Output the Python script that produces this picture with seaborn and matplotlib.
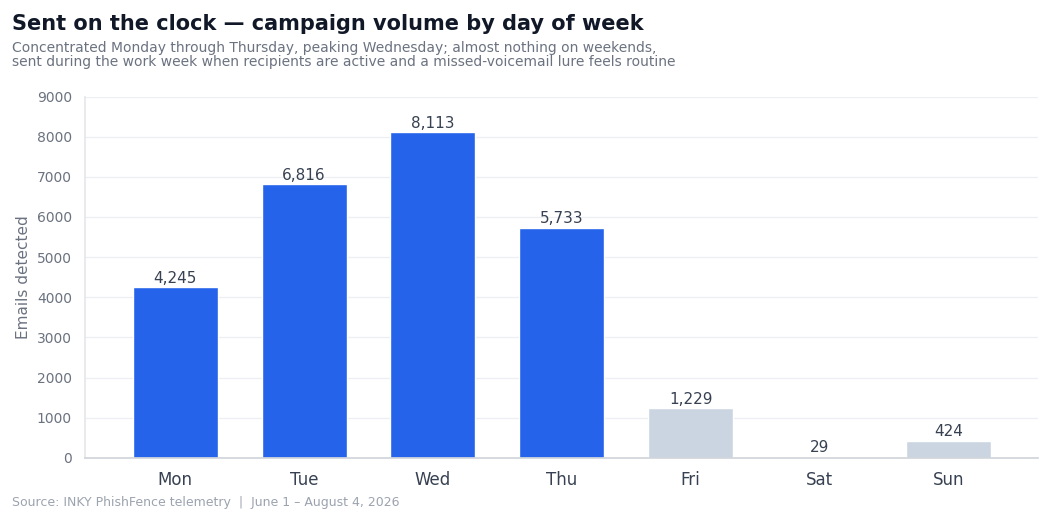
import matplotlib
matplotlib.use("Agg")
import matplotlib.pyplot as plt
import seaborn as sns
import pandas as pd

days = ["Mon", "Tue", "Wed", "Thu", "Fri", "Sat", "Sun"]
emails = [4245, 6816, 8113, 5733, 1229, 29, 424]
workday = [True, True, True, True, False, False, False]

BLUE = "#2563eb"
GREY = "#cbd5e1"

sns.set_theme(style="white")
plt.rcParams["font.family"] = ["DejaVu Sans"]

df = pd.DataFrame({"day": days, "emails": emails})
palette = [BLUE if w else GREY for w in workday]

fig = plt.figure(figsize=(10.5, 5.25), dpi=100)
ax = fig.add_axes([0.081, 0.128, 0.908, 0.688])

sns.barplot(data=df, x="day", y="emails", hue="day", palette=palette,
            legend=False, width=0.66, ax=ax, saturation=1)

for i, v in enumerate(emails):
    ax.text(i, v + 40, f"{v:,}", ha="center", va="bottom", fontsize=11, color="#374151")

ax.set_ylim(0, 9000)
ax.set_yticks(range(0, 9001, 1000))
ax.set_xlim(-0.7, 6.7)
ax.yaxis.grid(True, color="#eceff3", linewidth=0.9)
ax.set_axisbelow(True)
ax.set_xlabel("")
ax.set_ylabel("Emails detected", fontsize=11, color="#6b7280")
ax.tick_params(axis="y", labelsize=10, colors="#6b7280", left=False)
ax.tick_params(axis="x", labelsize=12, colors="#374151", bottom=False)
for s in ["top", "right"]:
    ax.spines[s].set_visible(False)
ax.spines["left"].set_color("#e5e7eb")
ax.spines["bottom"].set_color("#d1d5db")

fig.text(0.011, 0.955, "Sent on the clock \u2014 campaign volume by day of week",
         fontsize=15, fontweight="bold", color="#111827", va="center")
fig.text(0.011, 0.895,
         "Concentrated Monday through Thursday, peaking Wednesday; almost nothing on weekends,\n"
         "sent during the work week when recipients are active and a missed-voicemail lure feels routine",
         fontsize=10, color="#6b7280", va="center", linespacing=1.0)
fig.text(0.011, 0.043, "Source: INKY PhishFence telemetry  |  June 1 \u2013 August 4, 2026",
         fontsize=9, color="#9ca3af", va="center")

fig.savefig("out.png", dpi=100)
